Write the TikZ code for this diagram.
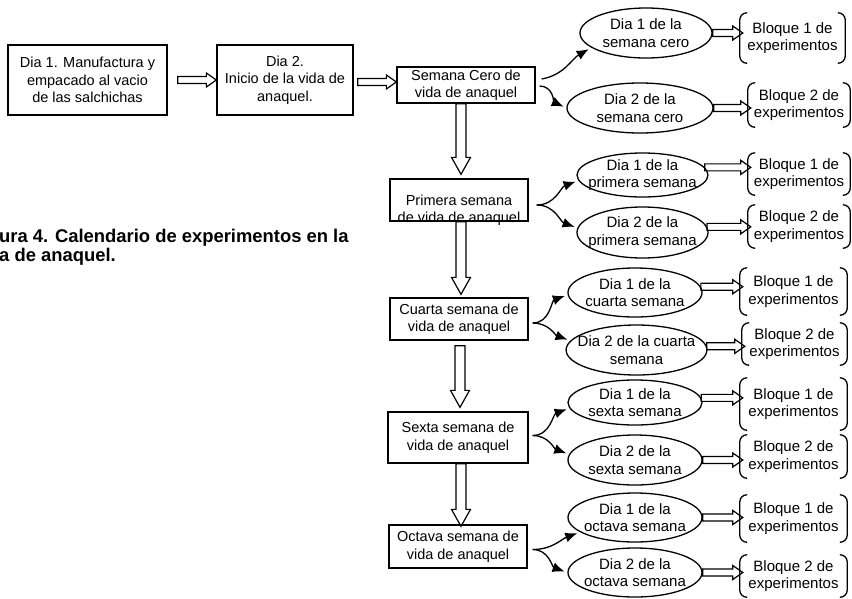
\documentclass[tikz,border=0pt]{standalone}
\usepackage{fontspec}
\setmainfont{Liberation Sans}
\usetikzlibrary{shapes.geometric,arrows.meta,calc}

\newcommand\hollowH[2]{%
  \draw[hollow] let \p1=(#1), \p2=(#2) in
    (\x1,\y1+3.5pt) -- (\x2-10pt,\y1+3.5pt) -- (\x2-10pt,\y1+7pt) -- (\x2,\y1)
    -- (\x2-10pt,\y1-7pt) -- (\x2-10pt,\y1-3.5pt) -- (\x1,\y1-3.5pt) -- cycle;}
\newcommand\hollowV[2]{%
  \draw[hollow] let \p1=(#1), \p2=(#2) in
    (\x1-5pt,\y1) -- (\x1-5pt,\y2+17pt) -- (\x1-9.5pt,\y2+17pt) -- (\x1,\y2)
    -- (\x1+9.5pt,\y2+17pt) -- (\x1+5pt,\y2+17pt) -- (\x1+5pt,\y1) -- cycle;}
\newcommand\bracketbox[1]{%
  \draw[brkline] ([xshift=7pt]#1.north west) to[out=180,in=90] ([yshift=-7pt]#1.north west)
    -- ([yshift=7pt]#1.south west) to[out=-90,in=180] ([xshift=7pt]#1.south west);
  \draw[brkline] ([xshift=-7pt]#1.north east) to[out=0,in=90] ([yshift=-7pt]#1.north east)
    -- ([yshift=7pt]#1.south east) to[out=-90,in=0] ([xshift=-7pt]#1.south east);}

\begin{document}
\begin{tikzpicture}[x=1pt,y=-1pt,
  every node/.style={font=\fontsize{14.5}{17.5}\selectfont, align=center, inner sep=0pt},
  boxnode/.style={draw, line width=1.3pt},
  ellnode/.style={draw, ellipse, line width=1.3pt, inner xsep=-9pt, inner ysep=-5pt,
    font=\fontsize{15}{17.5}\selectfont},
  brknode/.style={font=\fontsize{15}{17.5}\selectfont},
  brkline/.style={line width=1.3pt, line cap=round},
  hollow/.style={draw, line width=1.2pt, line join=miter},
  curv/.style={line width=1.3pt, shorten >=3pt, -{Latex[length=12pt,width=10pt]}}]
\useasboundingbox (0,0) rectangle (852,598);

% caption
\node[anchor=west, align=left, font=\bfseries\fontsize{18.4}{19}\selectfont] (cap) at (-1,247.5)
  {ura 4. Calendario de experimentos en la\\a de anaquel.};

% left boxes
\node[boxnode, minimum width=159pt, minimum height=70pt] (b1) at (87.5,80)
  {Dia 1. Manufactura y\\empacado al vacio\\de las salchichas};
\node[boxnode, minimum width=136pt, minimum height=70pt] (b2) at (285,80)
  {Dia 2.\\Inicio de la vida de\\anaquel.};
\node[boxnode, minimum width=138pt, minimum height=36pt] (b3) at (466,85)
  {Semana Cero de\\vida de anaquel};
\node[boxnode, minimum width=138pt, minimum height=42pt,
  label={[yshift=-10pt]center:{Primera semana\\de vida de anaquel}}] (b4) at (459,200) {};
\node[boxnode, minimum width=138pt, minimum height=42pt] (b5) at (459,319)
  {Cuarta semana de\\vida de anaquel};
\node[boxnode, minimum width=140pt, minimum height=51pt] (b6) at (458,437.5)
  {Sexta semana de\\vida de anaquel};
\node[boxnode, minimum width=138pt, minimum height=43pt] (b7) at (458,546.5)
  {Octava semana de\\vida de anaquel};

% ellipses
\node[ellnode, minimum width=132pt, minimum height=50pt] (e1) at (646,33) {Dia 1 de la\\semana cero};
\node[ellnode, minimum width=146pt, minimum height=50pt] (e2) at (640,108) {Dia 2 de la\\semana cero};
\node[ellnode, minimum width=131pt, minimum height=44pt] (e3) at (642.5,175) {Dia 1 de la\\primera semana};
\node[ellnode, minimum width=131pt, minimum height=51pt] (e4) at (642.5,232.5) {Dia 2 de la\\primera semana};
\node[ellnode, minimum width=134pt, minimum height=49pt] (e5) at (635,292.5) {Dia 1 de la\\cuarta semana};
\node[ellnode, minimum width=137pt, minimum height=50pt] (e6) at (636.5,350) {Dia 2 de la cuarta\\semana};
\node[ellnode, minimum width=134pt, minimum height=45pt] (e7) at (635,402.5) {Dia 1 de la\\sexta semana};
\node[ellnode, minimum width=134pt, minimum height=50pt] (e8) at (635,460) {Dia 2 de la\\sexta semana};
\node[ellnode, minimum width=134pt, minimum height=49pt] (e9) at (635,517.5) {Dia 1 de la\\octava semana};
\node[ellnode, minimum width=134pt, minimum height=49pt] (e10) at (635,572.5) {Dia 2 de la\\octava semana};

% bracket blocks
\node[brknode, minimum width=105pt, minimum height=50pt] (r1) at (792.5,38) {Bloque 1 de\\experimentos};
\node[brknode, minimum width=102pt, minimum height=44pt] (r2) at (799,105) {Bloque 2 de\\experimentos};
\node[brknode, minimum width=102pt, minimum height=42pt] (r3) at (799,174) {Bloque 1 de\\experimentos};
\node[brknode, minimum width=102pt, minimum height=43pt] (r4) at (799,226.5) {Bloque 2 de\\experimentos};
\node[brknode, minimum width=107pt, minimum height=47pt] (r5) at (793.5,291.5) {Bloque 1 de\\experimentos};
\node[brknode, minimum width=105pt, minimum height=42pt] (r6) at (794.5,344) {Bloque 2 de\\experimentos};
\node[brknode, minimum width=107pt, minimum height=52pt] (r7) at (793.5,404) {Bloque 1 de\\experimentos};
\node[brknode, minimum width=107pt, minimum height=43pt] (r8) at (793.5,456.5) {Bloque 2 de\\experimentos};
\node[brknode, minimum width=107pt, minimum height=47pt] (r9) at (793.5,518.5) {Bloque 1 de\\experimentos};
\node[brknode, minimum width=107pt, minimum height=42pt] (r10) at (793.5,576) {Bloque 2 de\\experimentos};
\bracketbox{r1}\bracketbox{r2}\bracketbox{r3}\bracketbox{r4}\bracketbox{r5}
\bracketbox{r6}\bracketbox{r7}\bracketbox{r8}\bracketbox{r9}\bracketbox{r10}

% hollow arrows
\hollowH{$(b1.east)+(10,0)$}{b2.west}
\hollowH{$(b2.east)+(4,2)$}{b3.west}
\hollowH{e1.east}{$(r1.west)+(3,0)$}
\hollowH{e2.east}{$(r2.west)+(3,0)$}
\hollowH{e3.7.5}{$(r3.west)+(3,0)$}
\hollowH{e4.5}{$(r4.west)+(3,0)$}
\hollowH{e5.5}{$(r5.west)+(3,0)$}
\hollowH{e6.3}{$(r6.west)+(3,0)$}
\hollowH{e7.4}{$(r7.west)+(3,0)$}
\hollowH{e8.east}{$(r8.west)+(3,0)$}
\hollowH{e9.east}{$(r9.west)+(3,0)$}
\hollowH{e10.east}{$(r10.west)+(3,0)$}

\hollowV{$(b3.south)+(-5,0)$}{$(b4.north)+(0,-4)$}
\hollowV{$(b4.south)+(2,0)$}{$(b5.north)+(0,-3)$}
\hollowV{$(b5.south)+(1,5)$}{$(b6.north)+(0,-4)$}
\hollowV{$(b6.south)+(3,0)$}{$(b7.north)+(0,2)$}

% curved arrows
\coordinate (f3u) at ($(b3.east)+(6,-6)$);
\coordinate (f3d) at ($(b3.east)+(4,1)$);
\coordinate (f4) at ($(b4.east)+(8,5)$);
\coordinate (f5) at ($(b5.east)+(4,4)$);
\coordinate (f6) at ($(b6.east)+(4,-2)$);
\coordinate (f7) at ($(b7.east)+(5,3)$);
\draw[curv] (f3u) to[out=10,in=210] (e1.195);
\draw[curv] (f3d) to[out=0,in=155] (e2.180);
\draw[curv] (f4) to[out=0,in=200] (e3.185);
\draw[curv] (f4) to[out=0,in=160] (e4.176);
\draw[curv] (f5) to[out=0,in=200] (e5.182);
\draw[curv] (f5) to[out=0,in=160] (e6.172);
\draw[curv] (f6) to[out=0,in=200] (e7.185);
\draw[curv] (f6) to[out=0,in=160] (e8.175);
\draw[curv] (f7) to[out=0,in=200] (e9.195);
\draw[curv] (f7) to[out=0,in=160] (e10.180);
\end{tikzpicture}
\end{document}
